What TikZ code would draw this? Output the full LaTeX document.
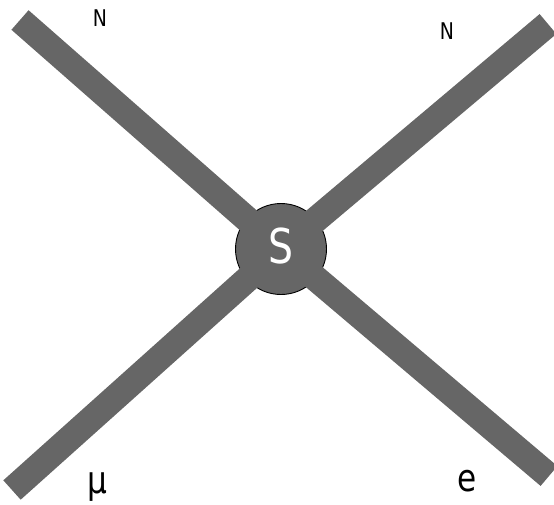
\documentclass[tikz,border=0pt]{standalone}
\usepackage{fontspec}
\usepackage{tikz}
\usetikzlibrary{positioning}
\newfontfamily\diagfont[FakeStretch=0.82]{DejaVu Sans}
\definecolor{bargray}{RGB}{102,102,102}
\tikzset{
  bar/.style     ={line width=26pt, bargray, line cap=butt},
  hubdisc/.style ={circle, draw=black, fill=bargray, line width=0.9pt,
                   minimum size=91pt, inner sep=0pt},
  hubtext/.style ={text=white, font=\diagfont\fontsize{48}{48}\selectfont, inner sep=0pt},
  smalllbl/.style={text=black, font=\diagfont\fontsize{23}{23}\selectfont, inner sep=0pt},
  biglbl/.style  ={text=black, font=\diagfont\fontsize{38}{38}\selectfont, inner sep=0pt},
}
\begin{document}
\begin{tikzpicture}[x=1pt, y=-1pt]
\useasboundingbox (0,0) rectangle (554,504);
\node[hubdisc] (hub) at (281,249) {};
\coordinate (nwEnd) at (20,20);
\coordinate (neEnd) at (548,24);
\coordinate (swEnd) at (12,490);
\coordinate (seEnd) at (549,476);
% four arms out of the hub
\foreach \e in {nwEnd,neEnd,swEnd,seEnd}
  \draw[bar, shorten <=30pt] (hub.center) -- (\e);
\node[hubtext] (hubS) at (281,246) {S};
\node[smalllbl] (lblNW) at (100,18) {N};
\node[smalllbl] (lblNE) at (447,31) {N};
\node[biglbl, anchor=base] (lblSW) at (97,493) {μ};
\node[biglbl, anchor=base] (lblSE) at (467,491) {e};
\end{tikzpicture}
\end{document}
